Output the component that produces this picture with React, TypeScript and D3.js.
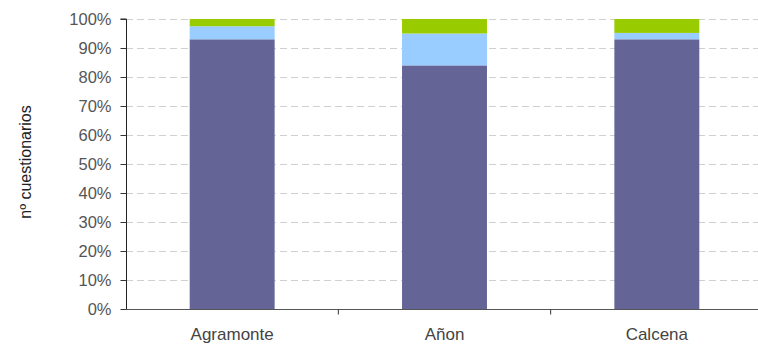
import React, { useEffect, useRef } from "react";
import * as d3 from "d3";

const categories = ["Agramonte", "Añon", "Calcena"];
const seriesNames = ["A", "B", "C"];
const seriesA = [93, 84, 93];
const seriesB = [4.5, 11, 2.2];
const seriesC = [2.5, 5, 4.8];
const colors = ["#646496", "#99ccff", "#99cc00"];
const yTicks = [0, 10, 20, 30, 40, 50, 60, 70, 80, 90, 100];
const yLabel = "nº cuestionarios";

const W = 758;
const H = 346;
const margin = { left: 126, right: -5, top: 19, bottom: 37 };
const FONT = "Liberation Sans, Arial, sans-serif";

export default function App() {
  const ref = useRef<SVGSVGElement>(null);
  useEffect(() => {
    const svg = d3.select(ref.current);
    svg.selectAll("*").remove();
    const x = d3
      .scaleBand()
      .domain(categories)
      .range([margin.left, W - margin.right])
      .paddingInner(0.6)
      .paddingOuter(0.3);
    const y = d3.scaleLinear().domain([0, 100]).range([H - margin.bottom, margin.top]);

    const rows = categories.map((c, i) => ({ cat: c, A: seriesA[i], B: seriesB[i], C: seriesC[i] }));
    const stack = d3.stack<any>().keys(seriesNames)(rows);

    // grid
    svg
      .append("g")
      .selectAll("line")
      .data(yTicks.filter((t) => t > 0))
      .join("line")
      .attr("x1", margin.left)
      .attr("x2", W)
      .attr("y1", (d) => y(d) + 0.5)
      .attr("y2", (d) => y(d) + 0.5)
      .attr("stroke", "#d0d0d0")
      .attr("stroke-dasharray", "7,4")
      .attr("stroke-width", 1);

    // bars
    stack.forEach((layer, li) => {
      svg
        .append("g")
        .attr("fill", colors[li])
        .selectAll("rect")
        .data(layer)
        .join("rect")
        .attr("x", (d: any) => x(d.data.cat)!)
        .attr("width", x.bandwidth())
        .attr("y", (d: any) => y(d[1]))
        .attr("height", (d: any) => y(d[0]) - y(d[1]));
    });

    // y axis
    const yAxis = svg
      .append("g")
      .attr("transform", `translate(${margin.left + 0.5},0)`)
      .call(d3.axisLeft(y).tickValues(yTicks).tickSize(6).tickPadding(9).tickFormat((d) => `${d}%`));
    yAxis.select(".domain").attr("stroke", "#222").attr("d", `M-6,${y(100)}H0V${y(0)}`);
    yAxis.selectAll(".tick line").attr("stroke", "#333");
    yAxis
      .selectAll("text")
      .attr("fill", "#555")
      .style("font-family", FONT)
      .style("font-size", "16.5px");

    // x axis
    const xAxis = svg.append("g").attr("transform", `translate(0,${y(0) + 0.5})`);
    xAxis
      .append("line")
      .attr("x1", margin.left)
      .attr("x2", W)
      .attr("stroke", "#555");
    const step = x.step();
    xAxis
      .selectAll("line.tk")
      .data(d3.range(1, categories.length))
      .join("line")
      .attr("class", "tk")
      .attr("x1", (d) => x(categories[d])! - (step - x.bandwidth()) / 2)
      .attr("x2", (d) => x(categories[d])! - (step - x.bandwidth()) / 2)
      .attr("y1", 0)
      .attr("y2", 5)
      .attr("stroke", "#333");
    xAxis
      .selectAll("text")
      .data(categories)
      .join("text")
      .attr("x", (d) => x(d)! + x.bandwidth() / 2)
      .attr("y", 30)
      .attr("text-anchor", "middle")
      .attr("fill", "#444")
      .style("font-family", FONT)
      .style("font-size", "17px")
      .text((d) => d);

    svg
      .append("text")
      .attr("transform", `translate(31,162) rotate(-90)`)
      .attr("text-anchor", "middle")
      .attr("fill", "#222")
      .style("font-family", FONT)
      .style("font-size", "16px")
      .text(yLabel);
  }, []);
  return (
    <svg
      ref={ref}
      width={W}
      height={H}
      style={{ position: "absolute", left: 0, top: 0, background: "#fff" }}
    />
  );
}
